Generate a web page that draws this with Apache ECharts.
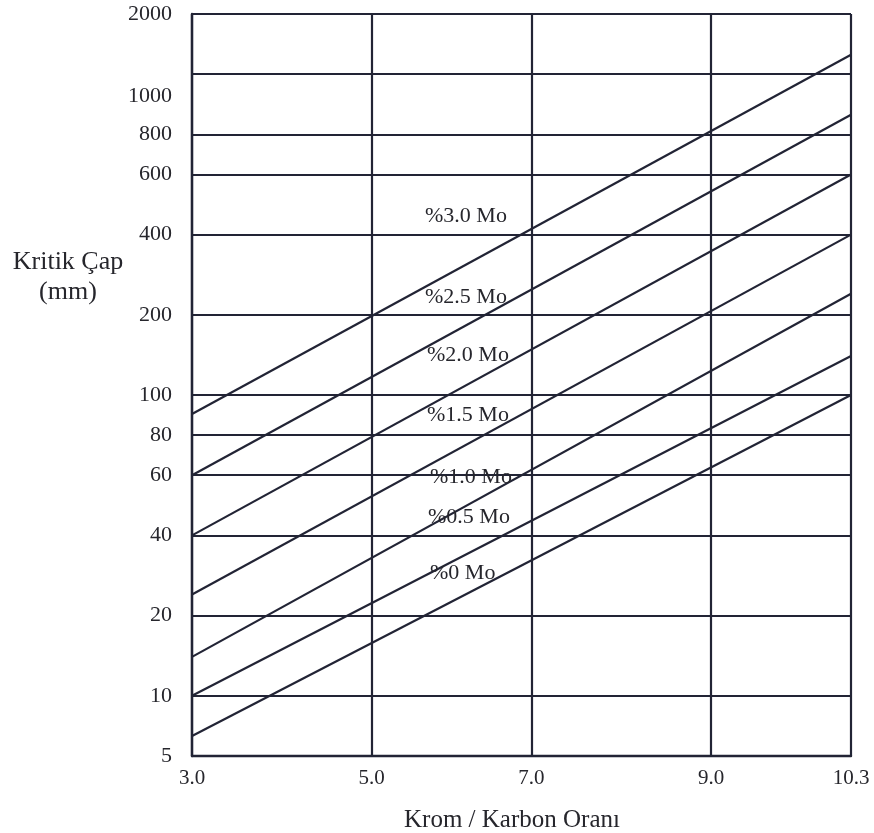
<!DOCTYPE html>
<html>
<head>
<meta charset="utf-8">
<script src="https://cdn.jsdelivr.net/npm/echarts@6/dist/echarts.min.js"></script>
<style>
  html, body { margin: 0; padding: 0; background: #ffffff; }
  #chart { width: 874px; height: 833px; }
</style>
</head>
<body>
<div id="chart"></div>
<script>
// Horizontal scale: chromium / carbon ratio
const xTickValues = [3.0, 5.0, 7.0, 9.0, 10.3];
const xTickLabels = ['3.0', '5.0', '7.0', '9.0', '10.3'];

// Vertical scale: critical diameter in mm
const yTickValues = [5, 10, 20, 40, 60, 80, 100, 200, 400, 600, 800, 1000, 2000];
const yTickLabels = ['5', '10', '20', '40', '60', '80', '100', '200', '400', '600', '800', '1000', '2000'];

// One straight line per molybdenum content, given by its diameter at both ends of the ratio range
const seriesNames = ['%3.0 Mo', '%2.5 Mo', '%2.0 Mo', '%1.5 Mo', '%1.0 Mo', '%0.5 Mo', '%0 Mo'];
const ratioRange = [3.0, 10.3];
const diameterAtStart = [90, 60, 40, 24, 14, 10, 6.3];
const diameterAtEnd = [1250, 860, 600, 400, 240, 140, 100];

// The diagram is ruled on square paper: every ruled value sits on a whole division,
// with uneven spacing between ruled values (piecewise scale).
const xDivisions = [0, 9, 17, 26, 33];
const yDivisions = [0, 3, 7, 11, 14, 16, 18, 22, 26, 29, 31, 34, 37];
// The "1000" caption is printed a little below its ruling
const yLabelDivisions = [0, 3, 7, 11, 14, 16, 18, 22, 26, 29, 31, 32.9, 37];
// Where each line caption starts, in divisions
const captionAnchors = [
  [11.67, 26.93], [11.67, 22.89], [11.77, 20.0], [11.77, 17.0],
  [11.92, 13.92], [11.82, 11.92], [11.92, 9.13]
];

function toDivision(v, values, divs, logScale) {
  const f = logScale ? Math.log : (t => t);
  let i = 0;
  while (i < values.length - 2 && v > values[i + 1]) i++;
  const a = f(values[i]), b = f(values[i + 1]);
  const t = (f(v) - a) / (b - a);
  return divs[i] + t * (divs[i + 1] - divs[i]);
}
const xDiv = v => toDivision(v, xTickValues, xDivisions, false);
const yDiv = v => toDivision(v, yTickValues, yDivisions, true);

function labelAt(divs, labels) {
  return function (v) {
    for (let i = 0; i < divs.length; i++) {
      if (Math.abs(divs[i] - v) < 1e-6) return labels[i];
    }
    return '';
  };
}

const ink = '#222435';
const textInk = '#26262c';
const serif = '"Liberation Serif", "Times New Roman", serif';

const chart = echarts.init(document.getElementById('chart'), null, { renderer: 'canvas' });

chart.setOption({
  backgroundColor: '#ffffff',
  animation: false,
  grid: { left: 192, top: 14, width: 659, height: 742, outerBoundsMode: 'none', containLabel: false },
  xAxis: {
    type: 'value', min: 0, max: 33,
    axisLine: { show: true, lineStyle: { color: ink, width: 2.4 } },
    axisTick: { show: false, customValues: xDivisions },
    splitLine: { show: true, lineStyle: { color: ink, width: 2.2 } },
    axisLabel: {
      customValues: xDivisions,
      formatter: labelAt(xDivisions, xTickLabels),
      margin: 12, color: textInk, fontFamily: serif, fontSize: 21
    }
  },
  yAxis: {
    type: 'value', min: 0, max: 37,
    axisLine: { show: true, lineStyle: { color: ink, width: 2.4 } },
    axisTick: { show: false, customValues: yDivisions },
    splitLine: { show: true, lineStyle: { color: ink, width: 2.2 } },
    axisLabel: {
      customValues: yLabelDivisions,
      formatter: labelAt(yLabelDivisions, yTickLabels),
      padding: [9, 0, 0, 0],
      margin: 20, color: textInk, fontFamily: serif, fontSize: 22
    }
  },
  graphic: [
    {
      type: 'text', x: 68, y: 277,
      style: {
        text: 'Kritik Çap\n(mm)', align: 'center', verticalAlign: 'middle',
        font: '26px ' + serif, fill: textInk, lineHeight: 30
      }
    },
    {
      type: 'text', x: 512, y: 820,
      style: {
        text: 'Krom / Karbon Oranı', align: 'center', verticalAlign: 'middle',
        font: '25px ' + serif, fill: textInk
      }
    }
  ],
  series: seriesNames.map((name, i) => ({
    type: 'line',
    name: name,
    symbol: 'none',
    silent: true,
    z: 3,
    lineStyle: { color: ink, width: 2.2 },
    data: [
      [xDiv(ratioRange[0]), yDiv(diameterAtStart[i])],
      [xDiv(ratioRange[1]), yDiv(diameterAtEnd[i])]
    ],
    markPoint: {
      symbol: 'circle', symbolSize: 0, silent: true,
      data: [{ coord: captionAnchors[i], value: name }],
      label: {
        show: true, position: 'right', distance: 0, formatter: name,
        color: textInk, fontFamily: serif, fontSize: 22
      }
    }
  }))
});
</script>
</body>
</html>
